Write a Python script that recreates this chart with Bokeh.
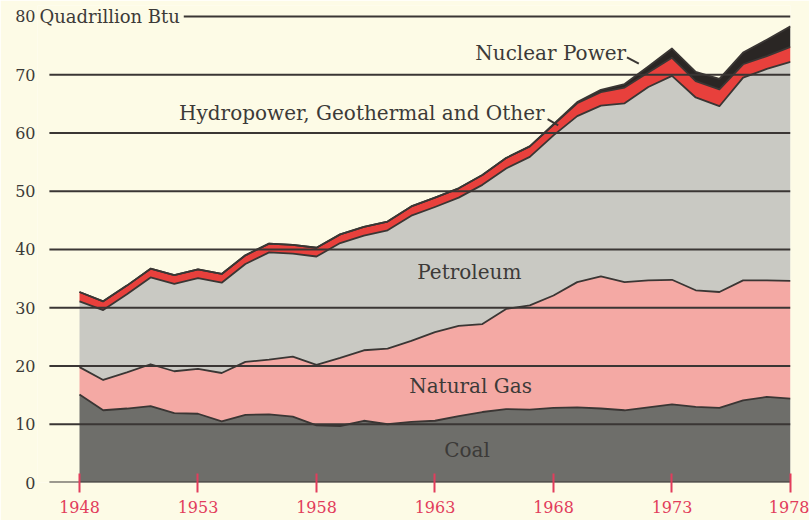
import numpy as np
from bokeh.plotting import figure
from bokeh.models import Range1d, FixedTicker, Label, ColumnDataSource
from bokeh.transform import stack
from bokeh.embed import file_html
from bokeh.resources import INLINE

# ---- data (quadrillion Btu) ----
years = list(range(1948, 1979))
coal = [15.1, 12.4, 12.7, 13.1, 11.9, 11.8, 10.5, 11.6, 11.7, 11.3,
        9.8, 9.7, 10.6, 10.0, 10.4, 10.6, 11.4, 12.1, 12.6, 12.5,
        12.8, 12.9, 12.7, 12.4, 12.9, 13.4, 13.0, 12.8, 14.1, 14.7, 14.4]
natural_gas = [4.7, 5.2, 6.2, 7.2, 7.2, 7.7, 8.3, 9.1, 9.4, 10.3,
               10.4, 11.7, 12.1, 13.0, 13.9, 15.2, 15.5, 15.1, 17.2, 17.9,
               19.3, 21.5, 22.7, 22.0, 21.8, 21.4, 20.0, 19.9, 20.6, 20.0, 20.2]
petroleum = [11.3, 12.0, 13.4, 14.9, 15.0, 15.6, 15.5, 16.8, 18.4, 17.7,
             18.6, 19.7, 19.7, 20.3, 21.5, 21.5, 22.0, 23.9, 24.1, 25.5,
             27.5, 28.5, 29.3, 30.7, 33.2, 35.0, 33.1, 31.9, 34.8, 36.3, 37.6]
hydro_other = [1.6, 1.5, 1.5, 1.5, 1.5, 1.5, 1.5, 1.5, 1.5, 1.5,
               1.5, 1.5, 1.5, 1.5, 1.6, 1.6, 1.6, 1.7, 1.8, 1.8,
               1.8, 2.2, 2.3, 2.7, 2.5, 3.1, 2.8, 2.9, 2.3, 2.2, 2.6]
nuclear = [0.0] * 20 + [0.1, 0.2, 0.4, 0.6, 1.0, 1.6, 1.6, 1.8, 2.0, 2.8, 3.5]

y_ticks = [0, 10, 20, 30, 40, 50, 60, 70, 80]
x_ticks = [1948, 1953, 1958, 1963, 1968, 1973, 1978]
unit_label = "Quadrillion Btu"

series = ["coal", "natural_gas", "petroleum", "hydro_other", "nuclear"]
labels = {
    "Nuclear Power": (1964.7, 73.7, "left"),
    "Hydropower, Geothermal and Other": (1952.2, 63.4, "left"),
    "Petroleum": (1964.45, 36.1, "center"),
    "Natural Gas": (1964.5, 16.6, "center"),
    "Coal": (1964.35, 5.6, "center"),
}
leaders = {"x0": [1971.1, 1967.75], "y0": [73.0, 62.4],
           "x1": [1971.6, 1968.2], "y1": [71.9, 61.3]}
rule_start = 1946.73      # where the horizontal rules begin
top_rule_start = 1952.4   # top rule begins after the unit label
unit_label_x = 1946.31

# ---- styling ----
BG = "#fdfbe6"
fills = ["#6e6e6a", "#f4a9a4", "#c9c9c3", "#e8403c", "#2a2624"]
EDGE = "#3a3634"
TEXT = "#3c3a38"
RED = "#e23d5c"
SERIF = "DejaVu Serif"

source = ColumnDataSource(dict(year=years, coal=coal, natural_gas=natural_gas,
                               petroleum=petroleum, hydro_other=hydro_other,
                               nuclear=nuclear))

p = figure(width=809, height=520, output_backend="svg", toolbar_location=None,
           x_range=Range1d(1946.228, 1978.0), y_range=Range1d(0, 81.888),
           background_fill_color=BG, border_fill_color=BG,
           outline_line_color=None,
           min_border_left=37, min_border_right=19,
           min_border_top=5, min_border_bottom=38)

p.varea_stack(stackers=series, x="year", color=fills, source=source)
for i in range(1, len(series) + 1):
    p.line(x="year", y=stack(*series[:i]), source=source,
           line_color=EDGE, line_width=1.8, line_join="round")

p.segment(x0="x0", y0="y0", x1="x1", y1="y1",
          source=ColumnDataSource(leaders), line_color=EDGE, line_width=2)

# horizontal rules drawn over the areas
p.xgrid.visible = False
p.ygrid.visible = False
rule_x0 = [rule_start] * (len(y_ticks) - 1) + [top_rule_start]
p.segment(x0=rule_x0, y0=y_ticks, x1=[x_ticks[-1]] * len(y_ticks),
          y1=y_ticks, line_color=EDGE, line_width=2)

# y axis
p.yaxis.ticker = FixedTicker(ticks=y_ticks)
p.yaxis.axis_line_color = None
p.yaxis.major_tick_line_color = None
p.yaxis.minor_tick_line_color = None
p.yaxis.major_tick_in = 0
p.yaxis.major_tick_out = 0
p.yaxis.major_label_standoff = 2
p.yaxis.major_label_text_font = SERIF
p.yaxis.major_label_text_font_size = "16px"
p.yaxis.major_label_text_color = TEXT

# x axis
p.xaxis.ticker = FixedTicker(ticks=x_ticks)
p.xaxis.axis_line_color = None
p.xaxis.minor_tick_line_color = None
p.xaxis.major_tick_line_color = RED
p.xaxis.major_tick_line_width = 2
p.xaxis.major_tick_in = 9
p.xaxis.major_tick_out = 10
p.xaxis.major_label_standoff = 8
p.xaxis.major_label_text_font = SERIF
p.xaxis.major_label_text_font_size = "16px"
p.xaxis.major_label_text_color = RED

# unit label next to "80"
p.add_layout(Label(x=unit_label_x, y=y_ticks[-1], text=unit_label,
                   text_font=SERIF, text_font_size="18px", text_color=TEXT,
                   text_baseline="middle", level="overlay"))

for txt, (lx, ly, align) in labels.items():
    p.add_layout(Label(x=lx, y=ly, text=txt, text_font=SERIF,
                       text_font_size="20px", text_color=TEXT,
                       text_align=align, text_baseline="alphabetic",
                       level="overlay"))

open("out.html", "w").write(file_html(p, INLINE))
